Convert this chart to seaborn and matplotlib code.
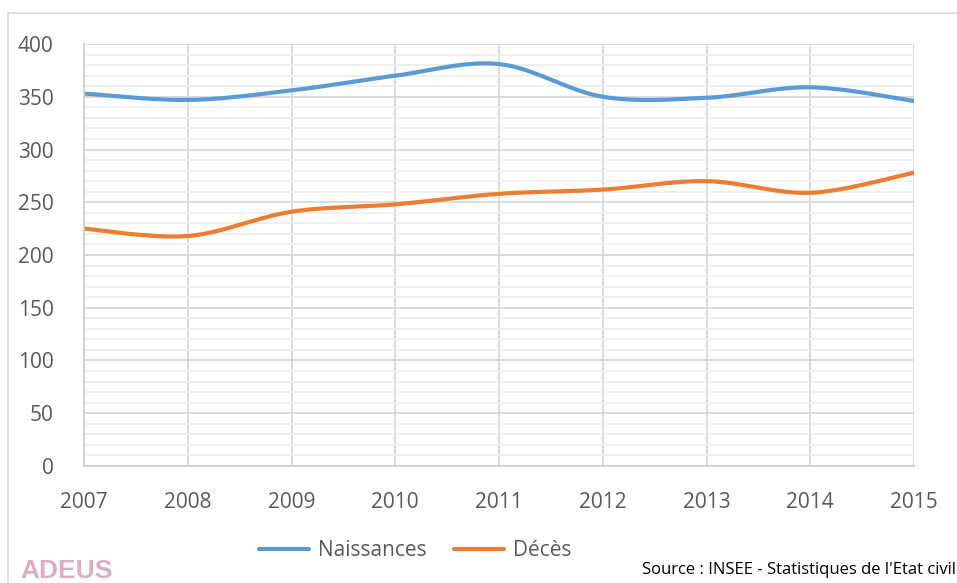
import numpy as np
import pandas as pd
import seaborn as sns
import matplotlib.pyplot as plt
from matplotlib.ticker import MultipleLocator
from matplotlib.patches import Rectangle

# data
years = [2007, 2008, 2009, 2010, 2011, 2012, 2013, 2014, 2015]
naissances = [353, 347, 356, 370, 381, 350, 349, 359, 346]
deces = [225, 218, 241, 248, 258, 262, 270, 259, 278]
series_names = ["Naissances", "Décès"]
colors = ["#5b9bd5", "#ed7d31"]


def smooth(x, y, n=40):
    # Excel-style smoothed line (Bezier through every point)
    x = np.asarray(x, float)
    y = np.asarray(y, float)
    px = np.concatenate([[x[0]], x, [x[-1]]])
    py = np.concatenate([[y[0]], y, [y[-1]]])
    xs, ys = [], []
    t = np.linspace(0, 1, n)
    for i in range(len(x) - 1):
        p0 = np.array([px[i + 1], py[i + 1]])
        p3 = np.array([px[i + 2], py[i + 2]])
        p1 = p0 + (p3 - np.array([px[i], py[i]])) / 6
        p2 = p3 - (np.array([px[i + 3], py[i + 3]]) - p0) / 6
        b = ((1 - t) ** 3)[:, None] * p0 + (3 * (1 - t) ** 2 * t)[:, None] * p1 \
            + (3 * (1 - t) * t ** 2)[:, None] * p2 + (t ** 3)[:, None] * p3
        xs.extend(b[:, 0])
        ys.extend(b[:, 1])
    return xs, ys


rows = []
for name, vals in zip(series_names, [naissances, deces]):
    sx, sy = smooth(years, vals)
    rows.append(pd.DataFrame({"year": sx, "value": sy, "serie": name}))
df = pd.concat(rows, ignore_index=True)

sns.set_style("white")
plt.rcParams['font.family'] = ['Open Sans', 'DejaVu Sans']

fig = plt.figure(figsize=(9.57, 5.83), dpi=100)
ax = fig.add_axes([0.0878, 0.2007, 0.8673, 0.7238])

sns.lineplot(data=df, x="year", y="value", hue="serie", palette=colors, linewidth=3.0,
             sort=False, estimator=None, ax=ax, legend=False)

ax.set_xlim(2007, 2015)
ax.set_ylim(0, 400)
ax.yaxis.set_major_locator(MultipleLocator(50))
ax.yaxis.set_minor_locator(MultipleLocator(10))
ax.set_xticks(years)
ax.grid(which="major", color="#d9d9d9", linewidth=1.3)
ax.yaxis.grid(which="minor", color="#eeeeee", linewidth=1.3)
ax.set_axisbelow(True)
for s in ["top", "right"]:
    ax.spines[s].set_visible(False)
for s in ["left", "bottom"]:
    ax.spines[s].set_color("#d0d0d0")
    ax.spines[s].set_linewidth(1.3)
ax.tick_params(axis="both", which="both", length=0, labelsize=15, colors="#595959")
ax.tick_params(axis="x", pad=19)
ax.tick_params(axis="y", pad=22)
ax.set_xlabel("")
ax.set_ylabel("")

handles = [plt.Line2D([], [], color=c, linewidth=3.0) for c in colors]
fig.legend(handles, series_names, loc="center", bbox_to_anchor=(0.434, 0.055), ncol=2,
           frameon=False, fontsize=15, labelcolor="#595959", handlelength=2.4,
           handletextpad=0.4, columnspacing=1.35)

fig.text(0.999, 0.022, "Source : INSEE - Statistiques de l'Etat civil", ha="right", va="center",
         fontsize=12, color="black")
fig.text(0.021, 0.0, "ADEUS", ha="left", va="bottom", fontsize=19, fontweight="bold",
         color="#d79fb9", alpha=0.85, family=["Liberation Sans", "DejaVu Sans"])

fig.patches.append(Rectangle((8 / 957, -0.1), 1.2, 1 - 13 / 583 + 0.1, transform=fig.transFigure,
                             fill=False, edgecolor="#d9d9d9", linewidth=1.2))

fig.savefig("out.png", dpi=100)
